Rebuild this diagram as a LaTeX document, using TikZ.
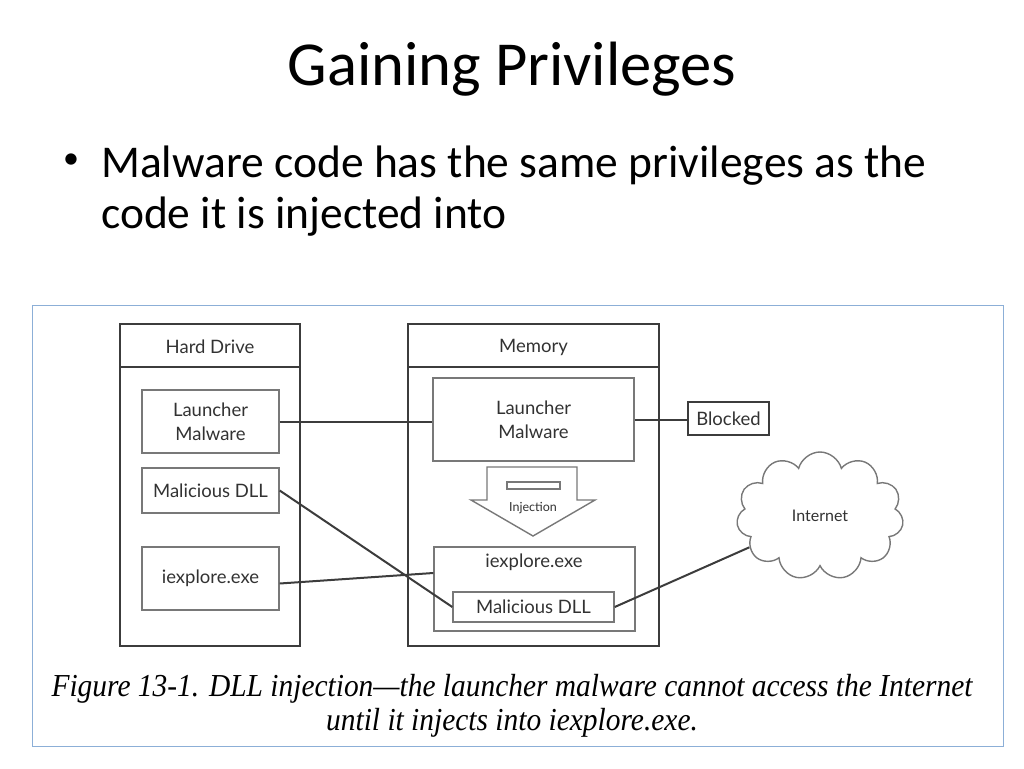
\documentclass[tikz,border=0pt]{standalone}
\usepackage{fontspec}
\setmainfont{Carlito}
\newfontfamily\figfont{Lato}
\newfontfamily\capfont[Ligatures=TeX]{Liberation Serif}
\usetikzlibrary{shapes.symbols}
\definecolor{framebl}{RGB}{140,175,215}
\definecolor{linegr}{RGB}{60,60,60}
\definecolor{boxgr}{RGB}{120,120,120}
\definecolor{txtgr}{RGB}{50,50,50}

\begin{document}
\begin{tikzpicture}[x=1pt,y=-1pt,
  outer/.style={draw=linegr,line width=2pt,inner sep=0pt},
  inner/.style={draw=boxgr,line width=1.4pt,inner sep=0pt,align=center,
    font=\figfont\fontsize{18.5}{24}\selectfont,text=txtgr},
  lbl/.style={inner sep=0pt,font=\figfont\fontsize{18.5}{24}\selectfont,text=txtgr},
  wire/.style={draw=linegr,line width=2pt},
  arrowline/.style={draw=boxgr,line width=1.4pt}]
\useasboundingbox (0,0) rectangle (1024,768);

% slide text
\node[anchor=base] (title) at (512,85) {\fontsize{62.6}{74}\selectfont Gaining Privileges};
\node (bul) at (71,161) {\fontsize{32}{40}\selectfont\textbullet};
\node[anchor=base west,inner sep=0pt] (txta) at (101,177) {\fontsize{45.5}{54}\selectfont Malware code has the same privileges as the};
\node[anchor=base west,inner sep=0pt] (txtb) at (101,228) {\fontsize{45.5}{54}\selectfont code it is injected into};

% figure frame
\node[draw=framebl,line width=1pt,minimum width=971pt,minimum height=441pt] (frame) at (517.5,525.5) {};

% hard drive and memory
\node[outer,minimum width=180pt,minimum height=322pt] (hd) at (210,485) {};
\node[outer,minimum width=251pt,minimum height=322pt] (mem) at (533.5,485) {};
\draw[wire] ([yshift=-44pt]hd.north west) -- ([yshift=-44pt]hd.north east);
\draw[wire] ([yshift=-44pt]mem.north west) -- ([yshift=-44pt]mem.north east);
\node[lbl] (hdname) at (210,347) {Hard Drive};
\node[lbl] (memname) at (533.5,347) {Memory};

\node[inner,minimum width=137pt,minimum height=63pt] (hdlaunch) at (210.5,421.5) {Launcher\\Malware};
\node[inner,minimum width=137pt,minimum height=45pt] (hddll) at (210.5,490.5) {Malicious DLL};
\node[inner,minimum width=137pt,minimum height=63pt] (hdie) at (210.5,578.5) {iexplore.exe};

\node[inner,minimum width=201pt,minimum height=83pt] (memlaunch) at (533.5,419.5) {Launcher\\Malware};
\node[inner,minimum width=201pt,minimum height=84pt] (memie) at (534.5,589) {};
\node[lbl] (memielbl) at (534,562) {iexplore.exe};
\node[inner,minimum width=161pt,minimum height=30pt] (memdll) at (533.5,607) {Malicious DLL};

% injection arrow
\draw[arrowline] (487,467) -- (577,467) -- (577,500) -- (595,500) -- (533,536) -- (471,500) -- (487,500) -- cycle;
\draw[arrowline] (507,482) rectangle (560,489);
\node[lbl,font=\figfont\fontsize{12.5}{14}\selectfont] (injlbl) at (533,508) {Injection};

% outside
\node[outer,lbl,minimum width=81pt,minimum height=33pt] (blocked) at (728.5,418.5) {Blocked};
\node[cloud,draw=boxgr,line width=1.4pt,cloud puffs=11,aspect=1.3,minimum width=167pt,minimum height=128pt,
  lbl,font=\figfont\fontsize{16}{18}\selectfont] (inet) at (820,516) {Internet};

% connections
\draw[wire] (hdlaunch.east) -- (hdlaunch.east -| memlaunch.west);
\draw[wire] (memlaunch.east) -- (memlaunch.east -| blocked.west);
\draw[wire] (hddll.east) -- (memdll.west);
\draw[wire] ([yshift=-5pt]hdie.east) -- ([yshift=16pt]memie.west);
\draw[wire] (memdll.east) -- (inet);

% caption
\node[anchor=base,inner sep=0pt,xscale=0.92] (capa) at (512,696) {\capfont\itshape\fontsize{32}{38}\selectfont Figure 13-1. DLL injection---the launcher malware cannot access the Internet};
\node[anchor=base,inner sep=0pt,xscale=0.92] (capb) at (512,730) {\capfont\itshape\fontsize{32}{38}\selectfont until it injects into iexplore.exe.};
\end{tikzpicture}
\end{document}
